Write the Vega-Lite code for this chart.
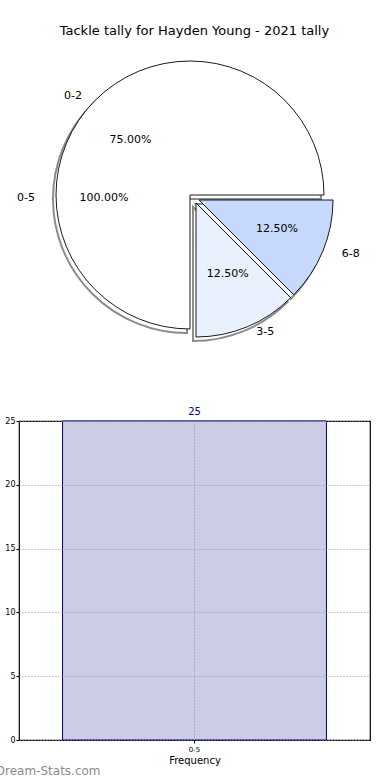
{
  "$schema": "https://vega.github.io/schema/vega-lite/v6.json",
  "autosize": {"type": "none"},
  "padding": {"left": 19, "top": 50, "right": 20, "bottom": 40},
  "params": [{"name": "width", "value": 351}, {"name": "height", "value": 690}],
  "bounds": "flush",
  "spacing": 81,
  "background": "white",
  "config": {"font": "DejaVu Sans", "view": {"stroke": null}},
  "title": {"text": "Tackle tally for Hayden Young - 2021 tally", "fontSize": 13, "fontWeight": "normal", "color": "black", "anchor": "middle", "offset": 12, "dx": 15},
  "datasets": {
    "tally": [
      {"label": "0-2", "value": 75, "pct": "75.00%"},
      {"label": "3-5", "value": 12.5, "pct": "12.50%"},
      {"label": "6-8", "value": 12.5, "pct": "12.50%"}
    ],
    "all": [{"label": "0-5", "value": 100, "pct": "100.00%"}],
    "hist": [{"bin": "0-5", "count": 25}]
  },
  "vconcat": [
    {
      "width": 342,
      "height": 290,
      "data": {"name": "tally"},
      "layer": [
        {
          "transform": [{"stack": "value", "groupby": [], "sort": [{"field": "label", "order": "descending"}], "as": ["t0", "t1"]}, {"filter": "datum.label == '0-2'"}],
          "mark": {"type": "arc", "radius": 134, "fill": "white", "stroke": "#8c8c8c", "strokeWidth": 2, "xOffset": -3, "yOffset": 4},
          "encoding": {"theta": {"field": "t0", "type": "quantitative", "stack": null, "scale": {"domain": [0, 100], "range": [1.5708, 7.854]}}, "theta2": {"field": "t1"}}
        },
        {
          "transform": [{"stack": "value", "groupby": [], "sort": [{"field": "label", "order": "descending"}], "as": ["t0", "t1"]}, {"filter": "datum.label == '3-5'"}],
          "mark": {"type": "arc", "radius": 134, "fill": "white", "stroke": "#8c8c8c", "strokeWidth": 2, "xOffset": 3, "yOffset": 12},
          "encoding": {"theta": {"field": "t0", "type": "quantitative", "stack": null, "scale": {"domain": [0, 100], "range": [1.5708, 7.854]}}, "theta2": {"field": "t1"}}
        },
        {
          "transform": [{"stack": "value", "groupby": [], "sort": [{"field": "label", "order": "descending"}], "as": ["t0", "t1"]}, {"filter": "datum.label == '6-8'"}],
          "mark": {"type": "arc", "radius": 134, "fill": "white", "stroke": "#8c8c8c", "strokeWidth": 2, "xOffset": 6, "yOffset": 9},
          "encoding": {"theta": {"field": "t0", "type": "quantitative", "stack": null, "scale": {"domain": [0, 100], "range": [1.5708, 7.854]}}, "theta2": {"field": "t1"}}
        },
        {
          "transform": [{"stack": "value", "groupby": [], "sort": [{"field": "label", "order": "descending"}], "as": ["t0", "t1"]}, {"filter": "datum.label == '0-2'"}],
          "mark": {"type": "arc", "radius": 134, "fill": "white", "stroke": "black", "strokeWidth": 0.9},
          "encoding": {"theta": {"field": "t0", "type": "quantitative", "stack": null, "scale": {"domain": [0, 100], "range": [1.5708, 7.854]}}, "theta2": {"field": "t1"}}
        },
        {
          "transform": [{"stack": "value", "groupby": [], "sort": [{"field": "label", "order": "descending"}], "as": ["t0", "t1"]}, {"filter": "datum.label == '3-5'"}],
          "mark": {"type": "arc", "radius": 134, "fill": "#eaf1fe", "stroke": "black", "strokeWidth": 0.9, "xOffset": 6, "yOffset": 8},
          "encoding": {"theta": {"field": "t0", "type": "quantitative", "stack": null, "scale": {"domain": [0, 100], "range": [1.5708, 7.854]}}, "theta2": {"field": "t1"}}
        },
        {
          "transform": [{"stack": "value", "groupby": [], "sort": [{"field": "label", "order": "descending"}], "as": ["t0", "t1"]}, {"filter": "datum.label == '6-8'"}],
          "mark": {"type": "arc", "radius": 134, "fill": "#c6d8fc", "stroke": "black", "strokeWidth": 0.9, "xOffset": 9, "yOffset": 5},
          "encoding": {"theta": {"field": "t0", "type": "quantitative", "stack": null, "scale": {"domain": [0, 100], "range": [1.5708, 7.854]}}, "theta2": {"field": "t1"}}
        },
        {
          "transform": [{"stack": "value", "groupby": [], "sort": [{"field": "label", "order": "descending"}], "as": ["t0", "t1"]}, {"filter": "datum.label == '0-2'"}],
          "mark": {"type": "text", "radius": 80, "thetaOffset": -2.3562, "fontSize": 11, "color": "black", "dx": -3, "dy": 2},
          "encoding": {"theta": {"field": "t1", "type": "quantitative", "stack": null, "scale": {"domain": [0, 100], "range": [1.5708, 7.854]}}, "text": {"field": "pct"}}
        },
        {
          "transform": [{"stack": "value", "groupby": [], "sort": [{"field": "label", "order": "descending"}], "as": ["t0", "t1"]}, {"filter": "datum.label == '0-2'"}],
          "mark": {"type": "text", "radius": 147, "thetaOffset": -2.3562, "fontSize": 11, "color": "black", "align": "right", "dx": -4, "dy": 5},
          "encoding": {"theta": {"field": "t1", "type": "quantitative", "stack": null, "scale": {"domain": [0, 100], "range": [1.5708, 7.854]}}, "text": {"field": "label"}}
        },
        {
          "transform": [{"stack": "value", "groupby": [], "sort": [{"field": "label", "order": "descending"}], "as": ["t0", "t1"]}, {"filter": "datum.label == '3-5'"}],
          "mark": {"type": "text", "radius": 80, "thetaOffset": -0.3927, "fontSize": 11, "color": "black", "dx": 7, "dy": 5},
          "encoding": {"theta": {"field": "t1", "type": "quantitative", "stack": null, "scale": {"domain": [0, 100], "range": [1.5708, 7.854]}}, "text": {"field": "pct"}}
        },
        {
          "transform": [{"stack": "value", "groupby": [], "sort": [{"field": "label", "order": "descending"}], "as": ["t0", "t1"]}, {"filter": "datum.label == '3-5'"}],
          "mark": {"type": "text", "radius": 147, "thetaOffset": -0.3927, "fontSize": 11, "color": "black", "align": "left", "dx": 10, "dy": 1},
          "encoding": {"theta": {"field": "t1", "type": "quantitative", "stack": null, "scale": {"domain": [0, 100], "range": [1.5708, 7.854]}}, "text": {"field": "label"}}
        },
        {
          "transform": [{"stack": "value", "groupby": [], "sort": [{"field": "label", "order": "descending"}], "as": ["t0", "t1"]}, {"filter": "datum.label == '6-8'"}],
          "mark": {"type": "text", "radius": 80, "thetaOffset": -0.3927, "fontSize": 11, "color": "black", "dx": 13, "dy": 3},
          "encoding": {"theta": {"field": "t1", "type": "quantitative", "stack": null, "scale": {"domain": [0, 100], "range": [1.5708, 7.854]}}, "text": {"field": "pct"}}
        },
        {
          "transform": [{"stack": "value", "groupby": [], "sort": [{"field": "label", "order": "descending"}], "as": ["t0", "t1"]}, {"filter": "datum.label == '6-8'"}],
          "mark": {"type": "text", "radius": 147, "thetaOffset": -0.3927, "fontSize": 11, "color": "black", "align": "left", "dx": 16, "dy": 3},
          "encoding": {"theta": {"field": "t1", "type": "quantitative", "stack": null, "scale": {"domain": [0, 100], "range": [1.5708, 7.854]}}, "text": {"field": "label"}}
        },
        {
          "data": {"name": "all"},
          "mark": {"type": "text", "radius": 80, "fontSize": 11, "color": "black", "dx": -6, "dy": 3},
          "encoding": {"theta": {"field": "value", "type": "quantitative", "stack": true, "scale": {"domain": [0, 100], "range": [1.5708, 7.854]}}, "text": {"field": "pct"}}
        },
        {
          "data": {"name": "all"},
          "mark": {"type": "text", "radius": 147, "fontSize": 11, "color": "black", "align": "right", "dx": -8, "dy": 3},
          "encoding": {"theta": {"field": "value", "type": "quantitative", "stack": true, "scale": {"domain": [0, 100], "range": [1.5708, 7.854]}}, "text": {"field": "label"}}
        }
      ]
    },
    {
      "width": 351,
      "height": 319,
      "data": {"name": "hist"},
      "view": {"stroke": "black", "strokeWidth": 1.2},
      "title": {"text": "Dream-Stats.com", "orient": "bottom", "anchor": "start", "fontSize": 12, "fontWeight": "normal", "color": "#8c8c8c", "dx": 7, "offset": 1},
      "encoding": {
        "x": {
          "field": "bin", "type": "nominal", "title": "Frequency",
          "scale": {"paddingInner": 0, "paddingOuter": 0.165},
          "axis": {"labelAngle": 0, "labelFontSize": 7, "labelColor": "black", "labelPadding": 2, "titleFontSize": 10, "titleFontWeight": "normal", "titleColor": "black", "titlePadding": 3, "domain": false, "tickSize": 3, "tickColor": "black", "grid": true, "gridDash": [1, 2], "gridColor": "#999999", "zindex": 1}
        },
        "y": {
          "field": "count", "type": "quantitative", "title": "Distribution Intervals",
          "scale": {"domain": [0, 25], "nice": false},
          "axis": {"values": [0, 5, 10, 15, 20, 25], "labelFontSize": 8, "labelColor": "black", "labelPadding": 1, "tickSize": 3, "tickColor": "black", "domain": false, "gridDash": [1, 2], "gridColor": "#999999", "titleFontSize": 10, "titleFontWeight": "normal", "titleColor": "black", "titlePadding": 6, "zindex": 1}
        }
      },
      "layer": [
        {"mark": {"type": "bar", "fill": "#ccccE6", "stroke": "#00007f", "strokeWidth": 1}},
        {"mark": {"type": "text", "dy": -9, "fontSize": 10, "color": "#00007f"}, "encoding": {"text": {"field": "count"}}}
      ]
    }
  ]
}
